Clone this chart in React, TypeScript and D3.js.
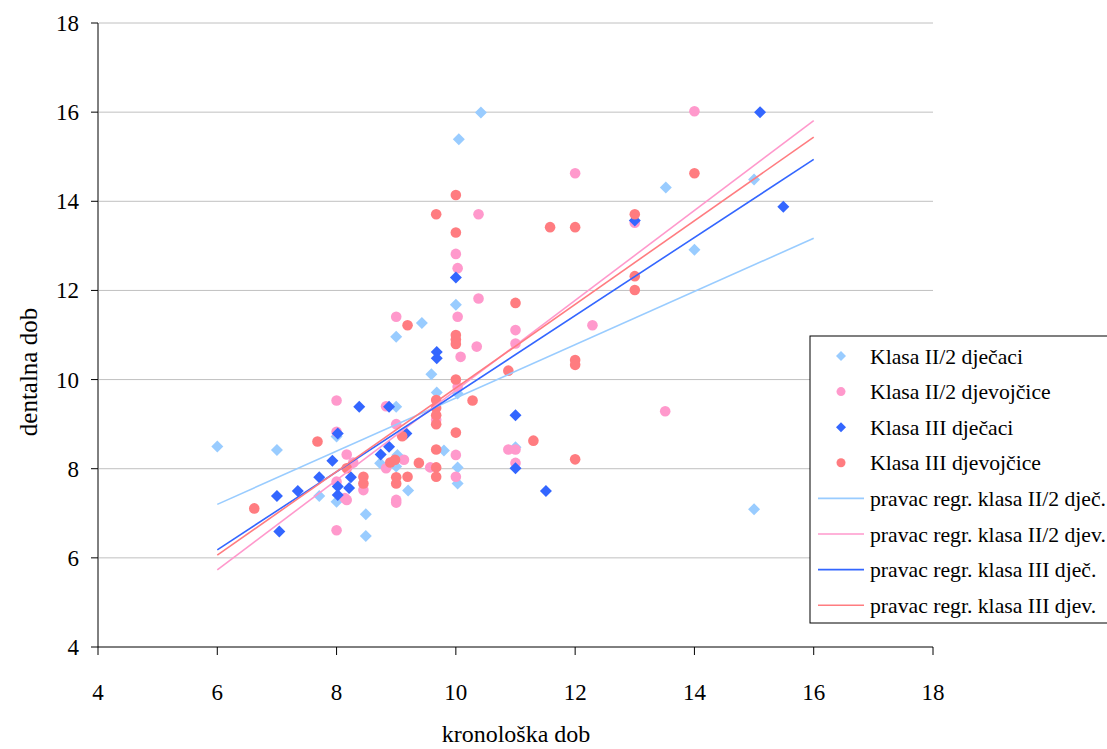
import React from "react";
import * as d3 from "d3";

// ---- data ----
const xTicks = [4, 6, 8, 10, 12, 14, 16, 18];
const yTicks = [4, 6, 8, 10, 12, 14, 16, 18];

// Klasa II/2 dječaci [kronološka dob, dentalna dob]
const klasa2Djecaci: [number, number][] = [
  [6, 8.5], [7, 8.42], [7.71, 7.39], [8, 8.72], [8, 7.26], [8.49, 6.98], [8.49, 6.49],
  [8.73, 8.12], [9, 9.39], [9.02, 8.31], [9, 8.05], [9, 10.96], [9.2, 7.51], [9.43, 11.27],
  [9.59, 10.12], [9.68, 9.71], [9.8, 8.41], [10.03, 9.69], [10, 11.68], [10.03, 8.03],
  [10.03, 7.67], [10.05, 15.39], [10.42, 15.99], [11, 8.48], [13.52, 14.31], [14, 12.91],
  [15, 14.49], [15, 7.09],
];

// Klasa II/2 djevojčice
const klasa2Djevojcice: [number, number][] = [
  [8, 9.53], [8, 8.83], [8, 7.71], [8, 6.62], [8.14, 7.34], [8.17, 7.3], [8.17, 8.32],
  [8.28, 8.14], [8.45, 7.52], [8.83, 9.4], [8.83, 8.01], [9, 11.41], [9, 9.0], [9, 7.3],
  [9, 7.24], [9.13, 8.2], [9.57, 8.03], [9.67, 9.1], [10, 12.82], [10.03, 12.5],
  [10.03, 11.41], [10.08, 10.51], [10.03, 9.84], [10, 8.31], [10, 7.82], [10.35, 10.74],
  [10.38, 11.82], [10.38, 13.71], [10.88, 8.43], [11, 8.43], [11, 8.13], [11, 10.81],
  [11, 11.11], [12, 14.63], [12.29, 11.22], [13, 13.52], [13.51, 9.29], [14, 16.02],
];

// Klasa III dječaci
const klasa3Djecaci: [number, number][] = [
  [7, 7.39], [7.04, 6.59], [7.35, 7.5], [7.71, 7.81], [7.93, 8.18], [8.02, 8.79],
  [8.02, 7.6], [8.02, 7.41], [8.21, 7.57], [8.24, 7.81], [8.38, 9.39], [8.74, 8.32],
  [8.88, 8.49], [8.88, 9.39], [9.17, 8.79], [9.68, 10.62], [9.68, 10.48], [10, 12.29],
  [11, 9.2], [11, 8.01], [11.51, 7.5], [13, 13.57], [15.1, 16.0], [15.49, 13.88],
];

// Klasa III djevojčice
const klasa3Djevojcice: [number, number][] = [
  [6.62, 7.11], [7.68, 8.61], [8.17, 8.01], [8.45, 7.82], [8.45, 7.67], [8.9, 8.14],
  [8.98, 8.2], [9, 7.81], [9, 7.67], [9.1, 8.73], [9.19, 7.82], [9.19, 11.22], [9.38, 8.13],
  [9.67, 13.71], [9.67, 9.54], [9.67, 9.36], [9.67, 9.2], [9.67, 9.0], [9.67, 8.43],
  [9.67, 8.03], [9.67, 7.82], [10, 14.14], [10, 13.3], [10, 11.0], [10, 10.9], [10, 10.8],
  [10, 10.0], [10, 8.81], [10.28, 9.53], [10.88, 10.2], [11, 11.72], [11.3, 8.63],
  [11.58, 13.42], [12, 13.42], [12, 10.44], [12, 10.33], [12, 8.21], [13, 13.71],
  [13, 12.32], [13, 12.01], [14, 14.63],
];

// regression lines: value at x = 6 and x = 16
const regX = [6, 16];
const regKlasa2Djec = [7.2, 13.17];
const regKlasa2Djev = [5.73, 15.81];
const regKlasa3Djec = [6.18, 14.94];
const regKlasa3Djev = [6.06, 15.44];

const scatterNames = [
  "Klasa II/2 dječaci",
  "Klasa II/2 djevojčice",
  "Klasa III dječaci",
  "Klasa III djevojčice",
];
const lineNames = [
  "pravac regr. klasa II/2 dječ.",
  "pravac regr. klasa II/2 djev.",
  "pravac regr. klasa III dječ.",
  "pravac regr. klasa III djev.",
];

const C_LB = "#99ccff";
const C_PK = "#ff99cc";
const C_DB = "#3366ff";
const C_RD = "#ff7c80";

const W = 1107;
const H = 749;
const FONT = "Liberation Serif, DejaVu Serif, Times New Roman, serif";

export default function App() {
  const x = d3.scaleLinear().domain([4, 18]).range([98, 933]);
  const y = d3.scaleLinear().domain([4, 18]).range([647, 23]);

  const scatter = [
    { data: klasa2Djecaci, color: C_LB, shape: "diamond" },
    { data: klasa2Djevojcice, color: C_PK, shape: "circle" },
    { data: klasa3Djecaci, color: C_DB, shape: "diamond" },
    { data: klasa3Djevojcice, color: C_RD, shape: "circle" },
  ];
  const regs = [
    { v: regKlasa2Djec, color: C_LB },
    { v: regKlasa2Djev, color: C_PK },
    { v: regKlasa3Djec, color: C_DB },
    { v: regKlasa3Djev, color: C_RD },
  ];
  const line = d3
    .line<[number, number]>()
    .x((d) => x(d[0]))
    .y((d) => y(d[1]));

  const diamond = (cx: number, cy: number, r: number) =>
    `M${cx},${cy - r}L${cx + r},${cy}L${cx},${cy + r}L${cx - r},${cy}Z`;

  const legX = 810;
  const legY = 336;
  const rowH = 35.6;
  const legendItems = [
    ...scatterNames.map((n, i) => ({ name: n, kind: scatter[i].shape, color: scatter[i].color })),
    ...lineNames.map((n, i) => ({ name: n, kind: "line", color: regs[i].color })),
  ];

  const textStyle = { fontFamily: FONT };

  return (
    <div style={{ position: "absolute", left: 0, top: 0 }}>
      <svg width={W} height={H} style={{ display: "block", background: "#fff", fontFamily: FONT }}>
        {/* gridlines */}
        {yTicks.slice(1).map((t) => (
          <line key={"g" + t} x1={99} x2={933} y1={y(t)} y2={y(t)} stroke="#c0c0c0" strokeWidth={1} />
        ))}
        {/* axes */}
        <line x1={98} x2={98} y1={y(18)} y2={y(4)} stroke="#000" strokeWidth={1} />
        <line x1={98} x2={933} y1={y(4)} y2={y(4)} stroke="#000" strokeWidth={1} />
        {yTicks.map((t) => (
          <g key={"yt" + t}>
            <line x1={91} x2={98} y1={y(t)} y2={y(t)} stroke="#000" />
            <text x={79} y={y(t)} dy="0.35em" textAnchor="end" style={textStyle} fontSize={23}>
              {t}
            </text>
          </g>
        ))}
        {xTicks.map((t) => (
          <g key={"xt" + t}>
            <line x1={x(t)} x2={x(t)} y1={647} y2={655} stroke="#000" />
            <text x={x(t)} y={692} dy="0.35em" textAnchor="middle" style={textStyle} fontSize={23}>
              {t}
            </text>
          </g>
        ))}
        <text x={516} y={742} textAnchor="middle" style={textStyle} fontSize={24}>
          kronološka dob
        </text>
        <text
          transform={`translate(28,372) rotate(-90)`}
          dy="0.35em"
          textAnchor="middle"
          style={textStyle}
          fontSize={25}
        >
          dentalna dob
        </text>

        {/* scatter series */}
        {scatter.map((s, si) => (
          <g key={"s" + si}>
            {s.data.map((d, i) =>
              s.shape === "diamond" ? (
                <path key={i} d={diamond(x(d[0]), y(d[1]), 6)} fill={s.color} />
              ) : (
                <circle key={i} cx={x(d[0])} cy={y(d[1])} r={5.3} fill={s.color} />
              )
            )}
          </g>
        ))}

        {/* regression lines */}
        {regs.map((r, i) => (
          <path
            key={"r" + i}
            d={line([[regX[0], r.v[0]], [regX[1], r.v[1]]]) || ""}
            fill="none"
            stroke={r.color}
            strokeWidth={1.6}
          />
        ))}

        {/* legend */}
        <rect x={legX} y={legY} width={320} height={287} fill="#fff" stroke="#000" strokeWidth={1} />
        {legendItems.map((it, i) => {
          const cy = legY + 20 + i * rowH;
          return (
            <g key={"l" + i}>
              {it.kind === "diamond" && <path d={diamond(841, cy, 5)} fill={it.color} />}
              {it.kind === "circle" && <circle cx={841} cy={cy} r={4.5} fill={it.color} />}
              {it.kind === "line" && (
                <line x1={818} x2={864} y1={cy} y2={cy} stroke={it.color} strokeWidth={1.6} />
              )}
              <text x={870} y={cy} dy="0.35em" style={textStyle} fontSize={21.7}>
                {it.name}
              </text>
            </g>
          );
        })}
      </svg>
    </div>
  );
}
